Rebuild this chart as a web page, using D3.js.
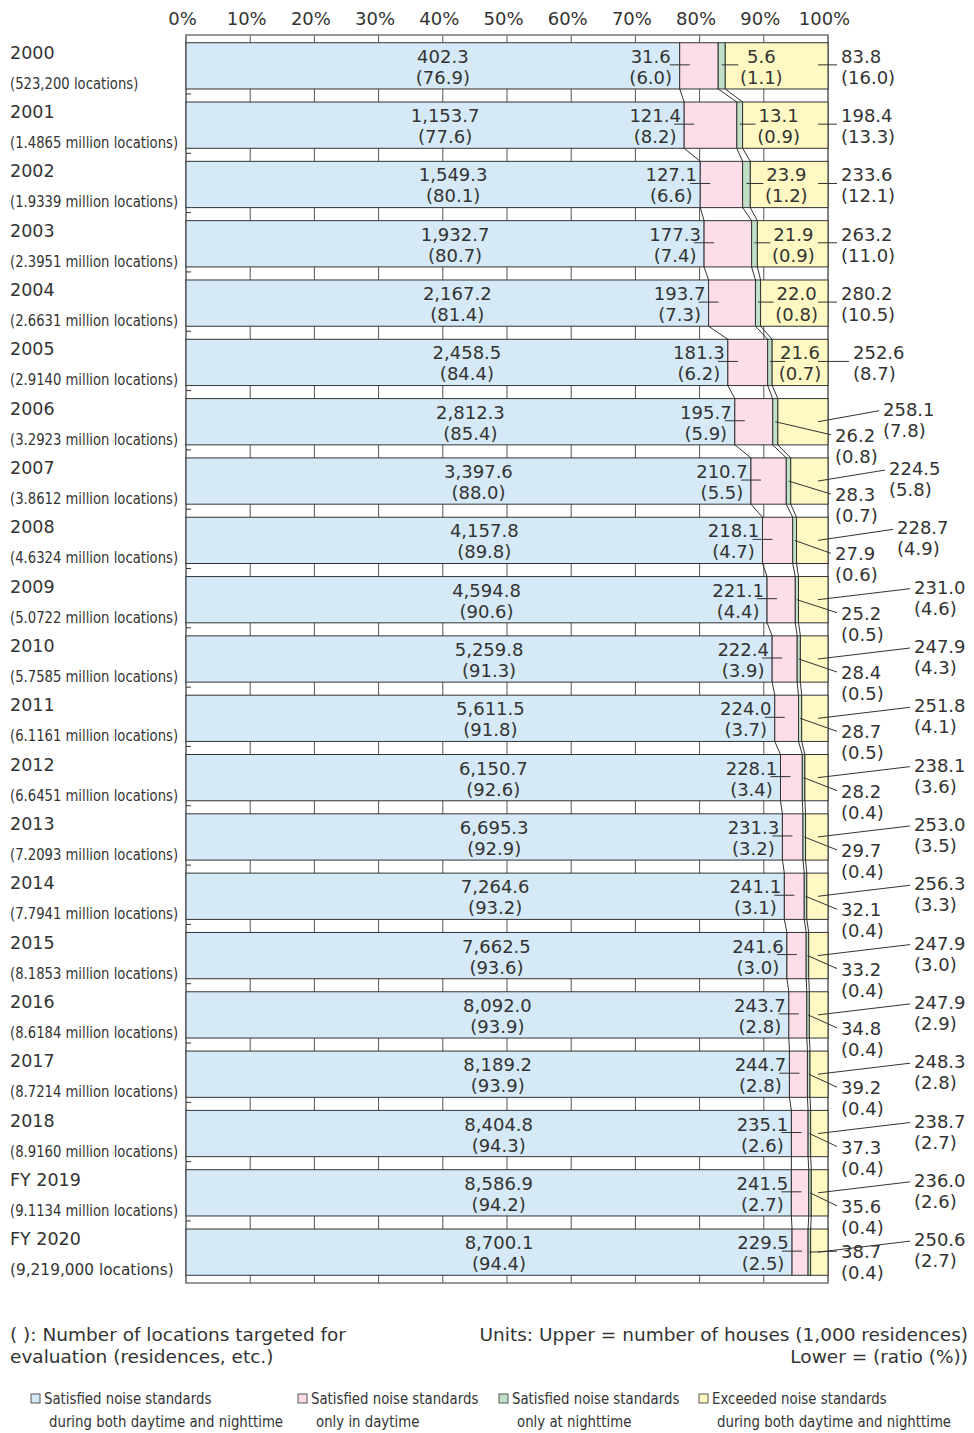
<!DOCTYPE html>
<html>
<head>
<meta charset="utf-8">
<script src="https://cdn.jsdelivr.net/npm/d3@7"></script>
<style>
  html, body { margin: 0; padding: 0; background: #fff; }
  svg { display: block; font-family: "DejaVu Sans", Verdana, sans-serif; }
</style>
</head>
<body>
<svg id="chart" width="974" height="1433"></svg>
<script>
const years = ["2000","2001","2002","2003","2004","2005","2006","2007","2008","2009","2010",
  "2011","2012","2013","2014","2015","2016","2017","2018","FY 2019","FY 2020"];
const locations = ["(523,200 locations)","(1.4865 million locations)","(1.9339 million locations)",
  "(2.3951 million locations)","(2.6631 million locations)","(2.9140 million locations)",
  "(3.2923 million locations)","(3.8612 million locations)","(4.6324 million locations)",
  "(5.0722 million locations)","(5.7585 million locations)","(6.1161 million locations)",
  "(6.6451 million locations)","(7.2093 million locations)","(7.7941 million locations)",
  "(8.1853 million locations)","(8.6184 million locations)","(8.7214 million locations)",
  "(8.9160 million locations)","(9.1134 million locations)","(9,219,000 locations)"];
const bothValues = [402.3,1153.7,1549.3,1932.7,2167.2,2458.5,2812.3,3397.6,4157.8,4594.8,5259.8,
  5611.5,6150.7,6695.3,7264.6,7662.5,8092.0,8189.2,8404.8,8586.9,8700.1];
const bothRatios = [76.9,77.6,80.1,80.7,81.4,84.4,85.4,88.0,89.8,90.6,91.3,91.8,92.6,92.9,93.2,93.6,
  93.9,93.9,94.3,94.2,94.4];
const dayValues = [31.6,121.4,127.1,177.3,193.7,181.3,195.7,210.7,218.1,221.1,222.4,224.0,228.1,
  231.3,241.1,241.6,243.7,244.7,235.1,241.5,229.5];
const dayRatios = [6.0,8.2,6.6,7.4,7.3,6.2,5.9,5.5,4.7,4.4,3.9,3.7,3.4,3.2,3.1,3.0,2.8,2.8,2.6,2.7,2.5];
const nightValues = [5.6,13.1,23.9,21.9,22.0,21.6,26.2,28.3,27.9,25.2,28.4,28.7,28.2,29.7,32.1,33.2,
  34.8,39.2,37.3,35.6,38.7];
const nightRatios = [1.1,0.9,1.2,0.9,0.8,0.7,0.8,0.7,0.6,0.5,0.5,0.5,0.4,0.4,0.4,0.4,0.4,0.4,0.4,0.4,0.4];
const exceededValues = [83.8,198.4,233.6,263.2,280.2,252.6,258.1,224.5,228.7,231.0,247.9,251.8,238.1,
  253.0,256.3,247.9,247.9,248.3,238.7,236.0,250.6];
const exceededRatios = [16.0,13.3,12.1,11.0,10.5,8.7,7.8,5.8,4.9,4.6,4.3,4.1,3.6,3.5,3.3,3.0,2.9,2.8,
  2.7,2.6,2.7];
const tickValues = [0,10,20,30,40,50,60,70,80,90,100];
const tickLabels = ["0%","10%","20%","30%","40%","50%","60%","70%","80%","90%","100%"];
const seriesNames = [
  ["Satisfied noise standards","during both daytime and nighttime"],
  ["Satisfied noise standards","only in daytime"],
  ["Satisfied noise standards","only at nighttime"],
  ["Exceeded noise standards","during both daytime and nighttime"]];
const noteLines = ["( ): Number of locations targeted for","evaluation (residences, etc.)"];
const unitLines = ["Units: Upper = number of houses (1,000 residences)","Lower = (ratio (%))"];

const colors = ["#d5e9f7","#fcdde9","#bfe0c6","#fff8c2"];
const TXT = "#333";

const svg = d3.select("#chart");
const x = d3.scaleLinear().domain([0,100]).range([186,828]);
const y = d3.scaleBand().domain(years).range([35,1283]).paddingInner(0.22).paddingOuter(0.13);
const bw = y.bandwidth();

const rows = years.map((yr,i) => {
  const r = [bothRatios[i], dayRatios[i], nightRatios[i], exceededRatios[i]];
  const tot = d3.sum(r);
  const cum = [0]; r.forEach((v,k)=>cum.push(cum[k] + v*100/tot));
  return {i, yr, cum, vals:[bothValues[i],dayValues[i],nightValues[i],exceededValues[i]], r};
});

// grid lines and frame
svg.append("g").selectAll("line").data(tickValues).join("line")
  .attr("x1", d=>x(d)).attr("x2", d=>x(d)).attr("y1", 35).attr("y2", 1283)
  .attr("stroke", "#555").attr("stroke-width", 1);
svg.append("rect").attr("x", x(0)).attr("y", 35).attr("width", x(100)-x(0)).attr("height", 1283-35)
  .attr("fill","none").attr("stroke","#777").attr("stroke-width",1.5);
// small left dashes in gaps
svg.append("g").selectAll("line").data(years.slice(1)).join("line")
  .attr("x1", x(0)).attr("x2", x(0)+5)
  .attr("y1", d=>y(d)-y.step()*y.paddingInner()+5).attr("y2", d=>y(d)-y.step()*y.paddingInner()+5)
  .attr("stroke","#333");

// top axis
const axis = d3.axisTop(x).tickValues(tickValues).tickFormat((d,i)=>tickLabels[i]).tickSize(0).tickPadding(10);
const ag = svg.append("g").attr("transform","translate(0,35)").call(axis);
ag.select(".domain").remove();
ag.selectAll("text").attr("font-size",18).attr("fill",TXT).attr("dx",-4)
  .attr("font-family","DejaVu Sans, sans-serif");

// series (connector) lines
const conn = svg.append("g");
for (let i=0;i<rows.length-1;i++){
  for (let k=1;k<=3;k++){
    conn.append("line")
      .attr("x1", x(rows[i].cum[k])).attr("y1", y(rows[i].yr)+bw)
      .attr("x2", x(rows[i+1].cum[k])).attr("y2", y(rows[i+1].yr))
      .attr("stroke","#333").attr("stroke-width",1);
  }
}

// bars
const bars = svg.append("g");
rows.forEach(row => {
  bars.selectAll(null).data([0,1,2,3]).join("rect")
    .attr("x", k=>x(row.cum[k])).attr("width", k=>x(row.cum[k+1])-x(row.cum[k]))
    .attr("y", y(row.yr)).attr("height", bw)
    .attr("fill", k=>colors[k]).attr("stroke","#333").attr("stroke-width",1);
});

const fv = d3.format(",.1f"), fr = d => "(" + d3.format(".1f")(d) + ")";
const lab = svg.append("g").attr("fill",TXT).attr("font-size",18);
function two(xp, yp, v, r, anchor){
  lab.append("text").attr("x",xp).attr("y",yp).attr("text-anchor",anchor).text(fv(v));
  lab.append("text").attr("x",xp).attr("y",yp+21).attr("text-anchor",anchor).text(fr(r));
}
function seg(x1,y1,x2,y2){
  lab.append("line").attr("x1",x1).attr("y1",y1).attr("x2",x2).attr("y2",y2)
    .attr("stroke","#333").attr("stroke-width",1);
}
rows.forEach(row => {
  const i=row.i, c=y(row.yr)+bw/2, cm=row.cum;
  // left labels
  svg.append("text").attr("x",10).attr("y",c-7).attr("font-size",17.5).attr("fill",TXT).text(row.yr);
  const k = i===rows.length-1 ? 0.93 : 0.8;
  svg.append("g").attr("transform",`translate(10,${c+23}) scale(${k},1)`)
    .append("text").attr("font-size",16.5).attr("fill",TXT).text(locations[i]);
  // blue
  two((x(0)+x(cm[1]))/2+10, c-3, row.vals[0], row.r[0], "middle");
  // pink
  two(x(cm[1])-29, c-3, row.vals[1], row.r[1], "middle");
  seg(x(cm[1])-10, c-1, x(cm[1])+10, c-1);
  const gmid = (x(cm[2])+x(cm[3]))/2;
  if (i<6){
    two(Math.min(x(cm[3])+36, 800), c-3, row.vals[2], row.r[2], "middle");
    seg(gmid, c-1, x(cm[3])+13, c-1);
    const tx = i===5 ? 853 : 841;
    two(tx, c-3, row.vals[3], row.r[3], "start");
    seg(818, c-1, tx-4, c-1);
  } else {
    const gy = i===rows.length-1 ? c+6 : c+20;
    const gx = i<9 ? 835 : 841;
    two(gx, gy, row.vals[2], row.r[2], "start");
    seg(gmid, c, gx-4, gy-7);
    const tx = i===6 ? 883 : i===7 ? 889 : i===8 ? 897 : 914;
    two(tx, c-6, row.vals[3], row.r[3], "start");
    seg(818, c, tx-4, c-11);
  }
});

// notes
const notes = svg.append("g").attr("fill",TXT).attr("font-size",18.5);
noteLines.forEach((t,j)=>notes.append("text").attr("x",10).attr("y",1341+j*22).text(t));
unitLines.forEach((t,j)=>notes.append("text").attr("x",968).attr("y",1341+j*22).attr("text-anchor","end").text(t));

// legend
const lx = [31,298,499,699];
const lg = svg.append("g");
seriesNames.forEach((nm,k)=>{
  lg.append("rect").attr("x",lx[k]).attr("y",1394).attr("width",9).attr("height",9)
    .attr("fill",colors[k]).attr("stroke","#555").attr("stroke-width",1);
  lg.append("g").attr("transform",`translate(${lx[k]+13},1404) scale(0.86,1)`)
    .append("text").attr("font-size",15.5).attr("fill",TXT).text(nm[0]);
  lg.append("g").attr("transform",`translate(${lx[k]+18},1427) scale(0.86,1)`)
    .append("text").attr("font-size",15.5).attr("fill",TXT).text(nm[1]);
});
</script>
</body>
</html>
